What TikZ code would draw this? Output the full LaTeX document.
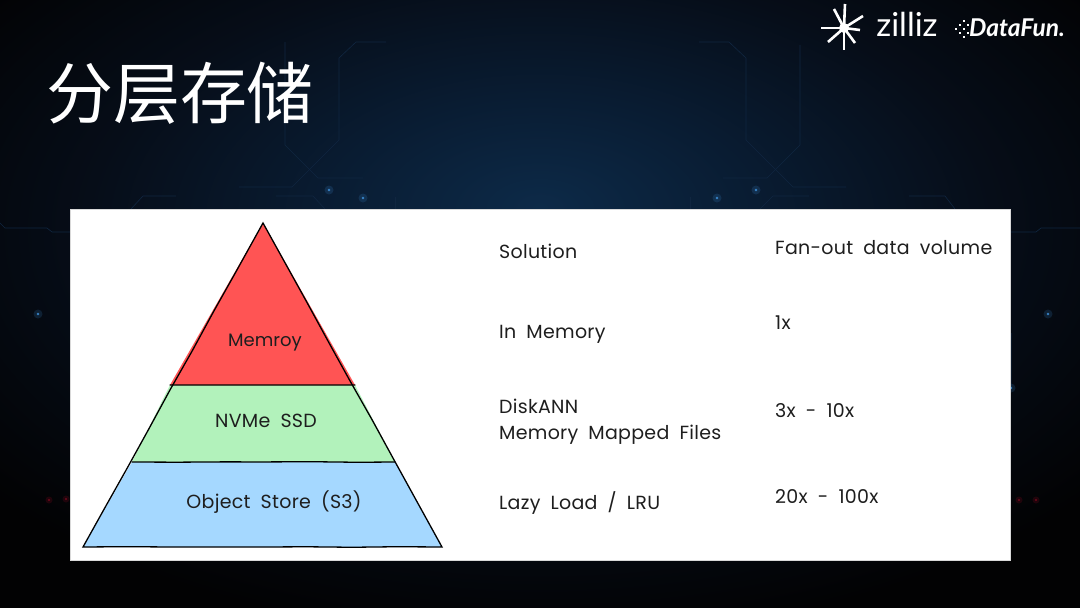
\documentclass[tikz,border=0pt]{standalone}
\usepackage{fontspec}
\setmainfont{Poppins}
\newfontfamily\sketchfont[LetterSpace=1.5,WordSpace=1.9]{Poppins}
\newfontfamily\logofont{Lato}
\newfontfamily\cjkfont{Noto Sans CJK SC}
\usetikzlibrary{decorations.pathmorphing}
\definecolor{glowa}{RGB}{13, 42, 72}
\definecolor{glowb}{RGB}{9, 28, 50}
\definecolor{glowc}{RGB}{6, 13, 24}
\definecolor{glowd}{RGB}{2, 2, 3}
\definecolor{wirecol}{RGB}{16, 38, 64}
\definecolor{dotblue}{RGB}{70, 160, 240}
\definecolor{dotred}{RGB}{150, 8, 35}
\definecolor{inkcol}{RGB}{30, 30, 30}
\definecolor{memcol}{RGB}{255, 84, 84}
\definecolor{ssdcol}{RGB}{178, 242, 187}
\definecolor{objcol}{RGB}{165, 216, 255}
\pgfdeclareradialshading{bgglow}{\pgfpoint{0bp}{8bp}}{color(0bp)=(glowa); color(10bp)=(glowb); color(21bp)=(glowc); color(33bp)=(glowd); color(100bp)=(glowd)}
\tikzstyle{wire} = [draw=wirecol,line width=0.6pt]
\tikzstyle{sketch} = [draw=black,line width=1.3pt,line cap=round,decorate,decoration={random steps,segment length=45pt,amplitude=0.35pt}]
\tikzstyle{hand} = [font=\sketchfont\fontsize{19}{22}\selectfont,text=inkcol,inner sep=0pt]
\tikzstyle{row} = [hand,anchor=west]
\tikzstyle{ray} = [draw=white,line width=2.6pt]
\begin{document}
\begin{tikzpicture}[x=1pt,y=-1pt]
    \useasboundingbox (0,0) rectangle (1080,608);
    \shade[shading=bgglow] (0,0) rectangle (1080,608);

    % circuit lines behind the card
    \draw[wire] (386,42) -- (356,42) -- (339,58) -- (339,140) -- (292,187) -- (239,187);
    \draw[wire] (285,42) -- (285,145) -- (318,178) -- (363,178);
    \draw[wire] (276,196) -- (313,196) -- (325,209);
    \draw[wire] (395,197) -- (395,209);
    \draw[wire] (699,42) -- (729,42) -- (746,58) -- (746,140) -- (793,187) -- (846,187);
    \draw[wire] (800,45) -- (800,145) -- (767,178) -- (723,178);
    \draw[wire] (760,209) -- (773,196) -- (809,196);
    \draw[wire] (690,197) -- (690,209);
    \draw[wire] (131,209) -- (143,196) -- (176,196);
    \draw[wire] (909,196) -- (945,196) -- (955,209);
    \draw[wire] (0,223) -- (5,228) -- (47,228) -- (52,232) -- (70,232);
    \draw[wire] (1010,232) -- (1036,232) -- (1041,228) -- (1080,228);
    \draw[wire,opacity=.5] (1011,333) -- (1011,388);

    \foreach \x/\y in {329/190,363/198,717/198,756/190,38/314,1048/314,1011/388} {
      \fill[dotblue,opacity=.15] (\x,\y) circle (4.5);
      \fill[dotblue,opacity=.75] (\x,\y) circle (1.4);
    }
    \foreach \x/\y in {49/500,66/499,1019/500,1036/500} {
      \fill[dotred,opacity=.2] (\x,\y) circle (3.5);
      \fill[dotred,opacity=.7] (\x,\y) circle (1.2);
    }

    % title and logos
    \node[text=white,inner sep=0pt] (title) at (180,93) {\cjkfont\fontsize{67}{70}\selectfont 分层存储};

    \coordinate (star) at (844,28);
    \foreach \x/\y in {845/4,821/28,863/16,834/9,855/43,844/50,828/42,860/30} {
      \draw[ray] (star) -- (\x,\y);
    }
    \fill[white] (star) circle (5);
    \node[text=white,inner sep=0pt] (zilliz) at (907,24) {\logofont\fontsize{33}{36}\selectfont zilliz};
    \node[text=white,inner sep=0pt,anchor=west] (datafun) at (969,28) {\logofont\fontsize{24.5}{26}\selectfont\bfseries\itshape DataFun.};
    \foreach \x/\y in {956/29,960/25,960/33,964/21,964/29,964/37,968/25,968/33} {
      \fill[white] (\x-1,\y-1) rectangle (\x+1,\y+1);
    }

    % card
    \fill[white,draw=black!15,line width=0.8pt] (70,209) rectangle (1010,560);

    % pyramid
    \coordinate (apex) at (263,223);
    \coordinate (redl) at (170,385);
    \coordinate (redr) at (355,385);
    \coordinate (grnl) at (132,462);
    \coordinate (grnr) at (395,462);
    \coordinate (blul) at (83,547);
    \coordinate (blur) at (442,547);
    \fill[objcol] (grnl) -- (grnr) -- (blur) -- (blul) -- cycle;
    \fill[ssdcol] (redl) -- (redr) -- (grnr) -- (grnl) -- cycle;
    \fill[memcol] (apex) -- (redr) -- (redl) -- cycle;
    \draw[sketch] (apex) -- (blur) -- (blul) -- cycle;
    \draw[sketch] (redl) -- (redr);
    \draw[sketch] (grnl) -- (grnr);

    \node[hand] (memroy) at (265,343) {\addfontfeature{LetterSpace=0}\fontsize{18}{22}\selectfont Memroy};
    \node[hand] (nvme) at (266,421) {NVMe SSD};
    \node[hand] (objstore) at (274,502) {Object Store (S3)};

    % table
    \node[row] (solution) at (499,251) {Solution};
    \node[row] (inmem) at (499,334) {In Memory};
    \node[row] (diskann) at (499,406) {DiskANN};
    \node[row] (mmap) at (499,435) {Memory Mapped Files};
    \node[row] (lazy) at (499,503) {Lazy Load / LRU};
    \node[row] (fanout) at (775,248) {Fan-out data volume};
    \node[row] (onex) at (775,323) {1x};
    \node[row] (threex) at (775,411) {3x - 10x};
    \node[row] (twentyx) at (775,497) {20x - 100x};
\end{tikzpicture}
\end{document}
